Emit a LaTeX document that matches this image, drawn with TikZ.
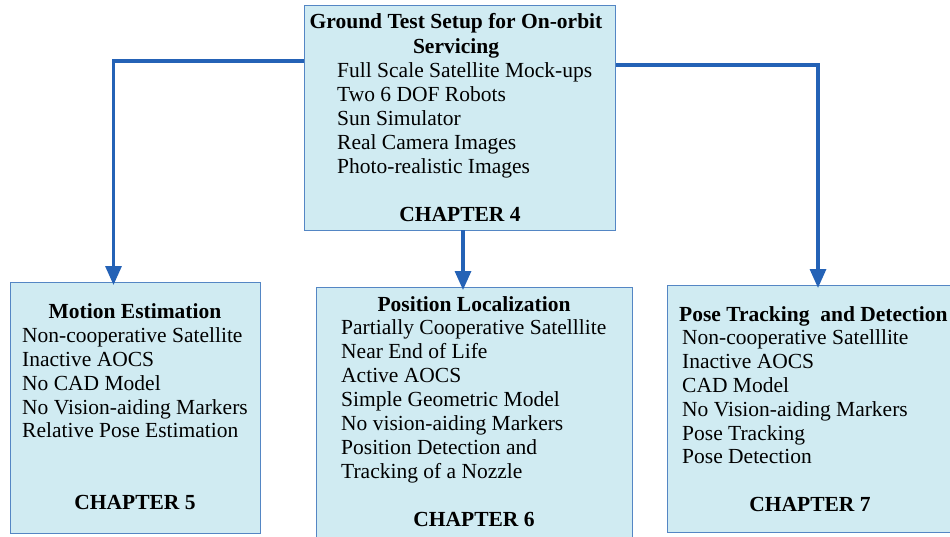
\documentclass[tikz,border=0pt]{standalone}
\usepackage{fontspec}
\setmainfont{Liberation Serif}
\usetikzlibrary{arrows.meta}
\definecolor{boxfill}{RGB}{208,235,242}
\definecolor{boxline}{RGB}{84,134,196}
\definecolor{conncol}{RGB}{36,98,182}
\begin{document}
\begin{tikzpicture}[x=1pt,y=1pt,
  box/.style={draw=boxline, fill=boxfill, line width=0.9pt, inner sep=0pt, anchor=north west},
  txt/.style={font=\fontsize{21.5}{24}\selectfont, inner sep=0pt, anchor=base west},
  ttl/.style={font=\fontsize{21.5}{24}\selectfont\bfseries, inner sep=0pt, anchor=base},
  conn/.style={draw=conncol, line width=3.2pt, shorten >=-3pt, -{Triangle[width=16pt,length=19pt]}}]
\useasboundingbox (0,0) rectangle (950,-536);
% boxes
\node[box, minimum width=311, minimum height=225] (top) at (304,-5) {};
\node[box, minimum width=250, minimum height=251] (left) at (10,-282) {};
\node[box, minimum width=316, minimum height=260] (mid) at (316,-287) {};
\node[box, minimum width=295, minimum height=247] (right) at (667,-285) {};
% top box text
\node[ttl] (t0) at (456,-28) {Ground Test Setup for On-orbit};
\node[ttl] (t1) at (456,-53) {Servicing};
\foreach \s/\y [count=\i] in {Full Scale Satellite Mock-ups/77, Two 6 DOF Robots/101, Sun Simulator/125, Real Camera Images/149, Photo-realistic Images/173}
  \node[txt] (ta\i) at (337,-\y) {\s};
\node[ttl] (tc) at (460,-221) {CHAPTER 4};
% left box text
\node[ttl] (l0) at (135,-318) {Motion Estimation};
\foreach \s/\y [count=\i] in {Non-cooperative Satellite/342, Inactive AOCS/366, No CAD Model/390, No Vision-aiding Markers/414, Relative Pose Estimation/437}
  \node[txt] (la\i) at (22,-\y) {\s};
\node[ttl] (lc) at (135,-509) {CHAPTER 5};
% middle box text
\node[ttl] (m0) at (474,-311) {Position Localization};
\foreach \s/\y [count=\i] in {Partially Cooperative Satelllite/334, Near End of Life/358, Active AOCS/382, Simple Geometric Model/406, No vision-aiding Markers/430, Position Detection and/454, Tracking of a Nozzle/478}
  \node[txt] (ma\i) at (341,-\y) {\s};
\node[ttl] (mc) at (474,-526) {CHAPTER 6};
% right box text
\node[ttl, anchor=base west] (r0) at (679,-321) {Pose Tracking\ \ and Detection};
\foreach \s/\y [count=\i] in {Non-cooperative Satelllite/344, Inactive AOCS/368, CAD Model/392, No Vision-aiding Markers/416, Pose Tracking/440, Pose Detection/463}
  \node[txt] (ra\i) at (682,-\y) {\s};
\node[ttl] (rc) at (810,-511) {CHAPTER 7};
% connectors
\coordinate (lk) at (113.5,-61);
\coordinate (rk) at (818,-65);
\coordinate (mk) at (463,-230);
\draw[conn] (top.west |- lk) -- (lk) -- (lk |- left.north);
\draw[conn] (top.east |- rk) -- (rk) -- (rk |- right.north);
\draw[conn] (mk) -- (mk |- mid.north);
\end{tikzpicture}
\end{document}
